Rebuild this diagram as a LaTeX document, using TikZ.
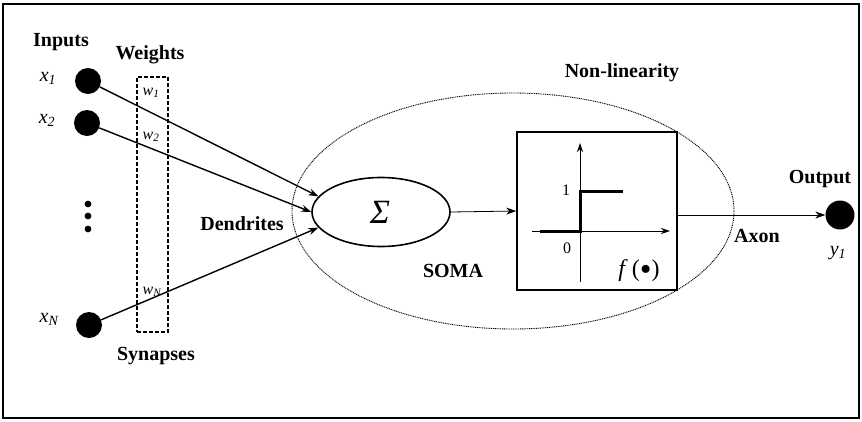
\documentclass[tikz,border=0pt]{standalone}
\usepackage{fontspec}
\setmainfont{Liberation Serif}
\usetikzlibrary{shapes.geometric, arrows.meta, positioning}

\tikzset{
  lbl/.style={font=\fontsize{20}{24}\selectfont\bfseries},
  xlbl/.style={font=\fontsize{20}{24}\selectfont\itshape},
  wlbl/.style={font=\fontsize{16}{19}\selectfont\itshape},
  inp/.style={circle, fill=black, minimum size=26pt},
  sumnode/.style={ellipse, draw, line width=1.6pt, minimum width=138pt, minimum height=69pt},
  link/.style={line width=1.4pt, -{Stealth[length=10pt,width=7pt]}},
  thin link/.style={line width=0.8pt, -{Stealth[length=10pt,width=7pt]}}
}

\begin{document}
\begin{tikzpicture}[x=1pt, y=-1pt, every node/.style={inner sep=0pt}]
  \useasboundingbox (0,0) rectangle (862,421);
  \draw[line width=1.6pt] (3,4) rectangle (859,418);

  % soma and weights
  \node[ellipse, draw, line width=0.9pt, dash pattern=on 1pt off 0.8pt,
        minimum width=442pt, minimum height=236pt] (soma) at (513,211) {};
  \node[draw, line width=1.2pt, dash pattern=on 4pt off 2pt,
        minimum width=31pt, minimum height=255pt] (wbox) at (152.5,204.5) {};

  % inputs
  \node[inp] (x1) at (88,81) {};
  \node[inp] (x2) at (87,123) {};
  \node[inp] (xn) at (89,325) {};
  \foreach \y in {204,216,229}
    \fill (88,\y) circle (3.4pt);

  \node[xlbl] (lx1) at (48,78) {x\textsubscript{1}};
  \node[xlbl] (lx2) at (47,120) {x\textsubscript{2}};
  \node[xlbl] (lxn) at (49,319) {x\textsubscript{N}};
  \node[wlbl] (w1) at (151,93) {w\textsubscript{1}};
  \node[wlbl] (w2) at (151,137) {w\textsubscript{2}};
  \node[wlbl] (wn) at (152,292) {w\textsubscript{N}};

  \node[lbl] (inputs) at (61,42) {Inputs};
  \node[lbl] (weights) at (150,55) {Weights};
  \node[lbl] (synapses) at (156,356) {Synapses};
  \node[lbl] (dendrites) at (242,224) {Dendrites};
  \node[lbl] (somalbl) at (453,271) {SOMA};
  \node[lbl] (nonlinlbl) at (622,73) {Non-linearity};
  \node[lbl] (outlbl) at (820,179) {Output};
  \node[lbl] (axon) at (757,236) {Axon};

  % summation
  \node[sumnode] (sum) at (381,212) {};
  \node[font=\fontsize{34}{36}\selectfont\itshape] (sigma) at (380,212) {Σ};

  \draw[link] (x1) -- (sum.166);
  \draw[link] (x2) -- (sum.west);
  \draw[link] (xn) -- (sum.194);

  % non-linearity
  \node[draw, line width=1.5pt, minimum width=160pt, minimum height=158pt] (nonlin) at (597,211) {};
  \draw[thin link] (sum.east) -- (nonlin.west);
  \draw[line width=0.8pt, -{Stealth[length=9pt,width=6pt]}] (580,282) -- (580,143);
  \draw[line width=0.8pt, -{Stealth[length=9pt,width=6pt]}] (532,231) -- (670,231);
  \draw[line width=3pt] (540,231) -- (580,231) -- (580,191) -- (623,191);
  \node[font=\fontsize{16}{19}\selectfont] (one) at (566,190) {1};
  \node[font=\fontsize{16}{19}\selectfont] (zero) at (567,248) {0};
  \node[font=\fontsize{24}{28}\selectfont] (fn) at (639,271) {\textit{f}\,(\raisebox{-0.13em}{\scalebox{1.4}{•}})};

  % output
  \node[inp, minimum size=29pt] (out) at (840,215) {};
  \node[xlbl] (y1) at (838,253) {y\textsubscript{1}};
  \draw[thin link] (out -| nonlin.east) -- (out);
\end{tikzpicture}
\end{document}
